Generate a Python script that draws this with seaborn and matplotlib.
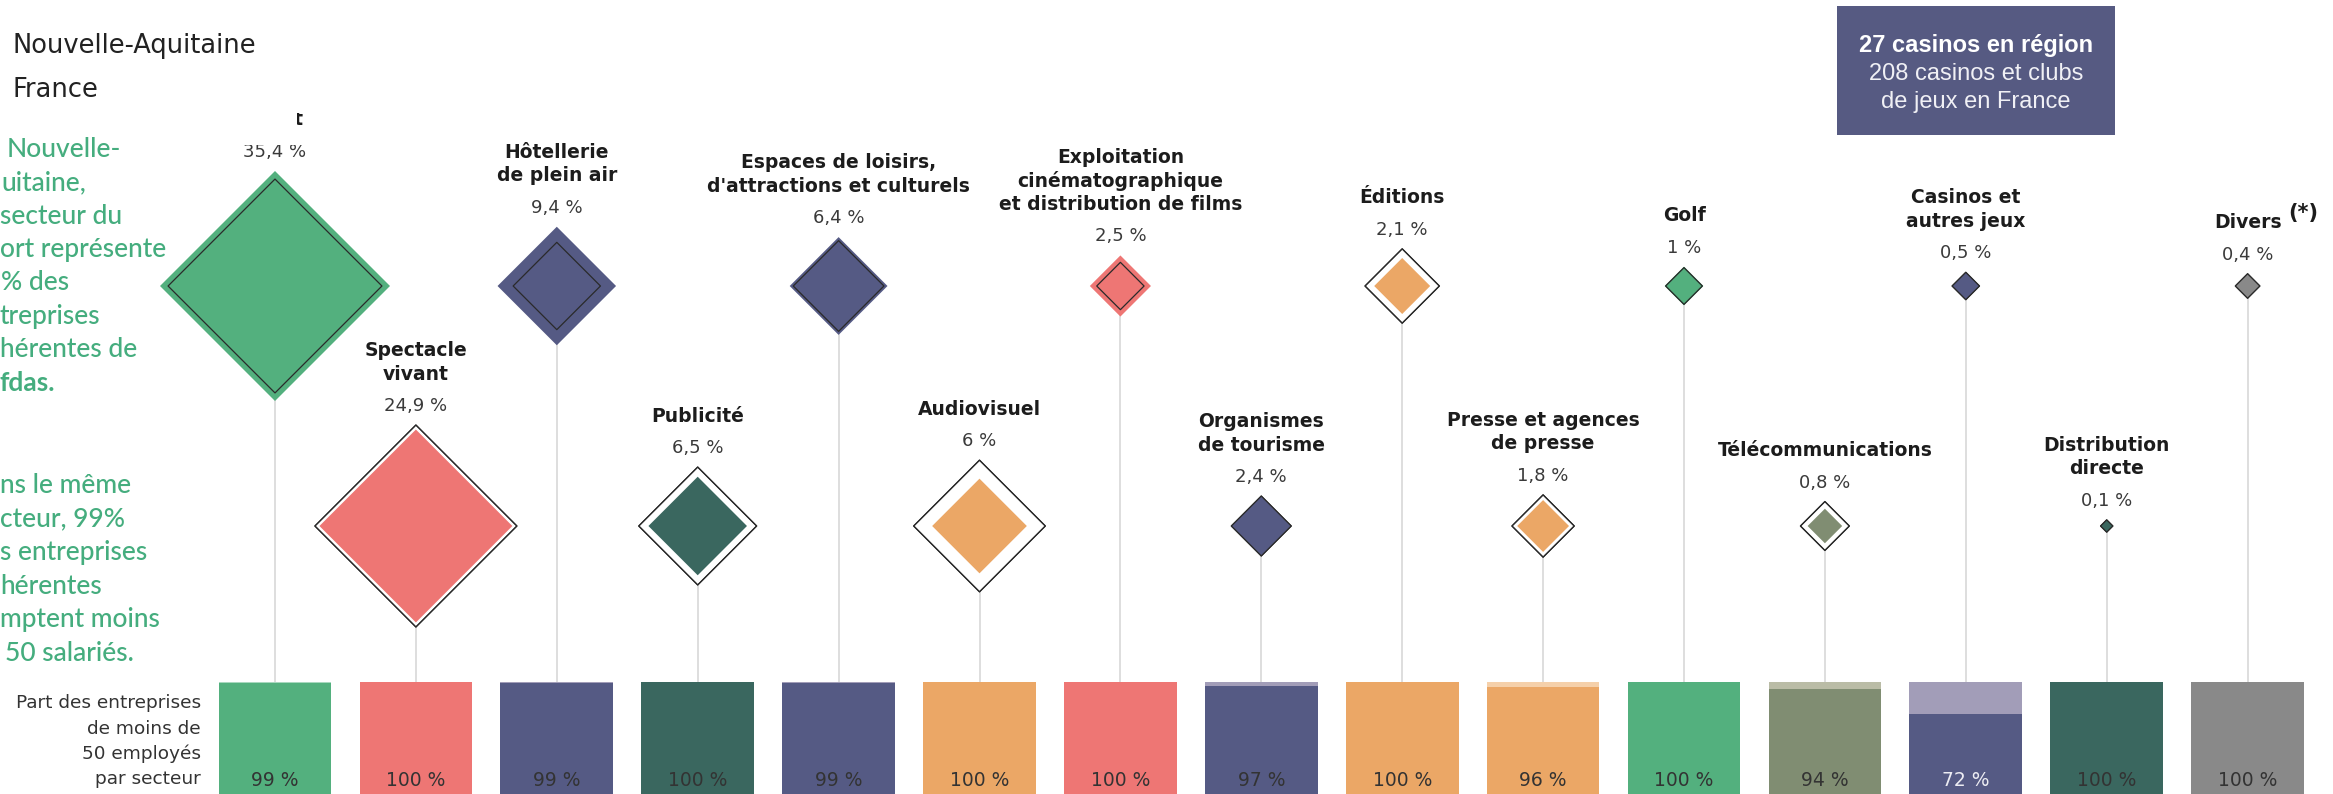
import matplotlib
matplotlib.use("Agg")
import matplotlib.pyplot as plt
from matplotlib.transforms import Bbox
from matplotlib.patches import Rectangle
import numpy as np
import pandas as pd
import seaborn as sns

# ---------------- data ----------------
sectors = ["Sport", "Spectacle\nvivant", "Hôtellerie\nde plein air", "Publicité",
           "Espaces de loisirs,\nd'attractions et culturels", "Audiovisuel",
           "Exploitation\ncinématographique\net distribution de films",
           "Organismes\nde tourisme", "Éditions", "Presse et agences\nde presse",
           "Golf", "Télécommunications", "Casinos et\nautres jeux",
           "Distribution\ndirecte", "Divers"]
share_region = [35.4, 24.9, 9.4, 6.5, 6.4, 6.0, 2.5, 2.4, 2.1, 1.8, 1.0, 0.8, 0.5, 0.1, 0.4]
share_france = [30.6, 27.3, 5.1, 9.3, 5.5, 11.6, 1.5, 2.4, 3.7, 2.6, 0.9, 1.6, 0.5, 0.1, 0.4]
share_labels = ["35,4 %", "24,9 %", "9,4 %", "6,5 %", "6,4 %", "6 %", "2,5 %", "2,4 %",
                "2,1 %", "1,8 %", "1 %", "0,8 %", "0,5 %", "0,1 %", "0,4 %"]
small_firms = [99, 100, 99, 100, 99, 100, 100, 97, 100, 96, 100, 94, 72, 100, 100]
small_labels = ["99 %", "100 %", "99 %", "100 %", "99 %", "100 %", "100 %", "97 %",
                "100 %", "96 %", "100 %", "94 %", "72 %", "100 %", "100 %"]
sector_colors = ["#53B07E", "#EE7674", "#555A84", "#3A675F", "#555A84", "#EBA766",
                 "#EE7674", "#555A84", "#EBA766", "#EBA766", "#53B07E", "#808D72",
                 "#555A84", "#3A675F", "#898989"]
sector_light = ["#A9D8BF", "#F6BAB9", "#A29DB8", "#9DB3AF", "#A29DB8", "#F5D0AA",
                "#F6BAB9", "#A29DB8", "#F5D0AA", "#F5D0AA", "#A9D8BF", "#BABCA6",
                "#A29DB8", "#9DB3AF", "#C4C4C4"]

intro_lines = ["Nouvelle-", "uitaine,", "secteur du", "ort représente", "% des",
               "treprises", "hérentes de", "fdas."]
second_lines = ["ns le même", "cteur, 99%", "s entreprises", "hérentes",
                "mptent moins", "50 salariés."]
bar_caption = ["Part des entreprises", "de moins de", "50 employés", "par secteur"]
box_lines = ["27 casinos en région", "208 casinos et clubs", "de jeux en France"]

# ---------------- layout ----------------
W, H, DPI = 2333, 794, 100
X0, DX = 275.0, 140.9          # pixel x of first column, column spacing
ROW_Y = (286.0, 526.0)          # pixel y of diamond centres (two rows)
BAR_TOP = 682.3
K = 19.33                       # half-diagonal (px) per sqrt(%)
S_PER = (K / (0.70711 * DPI / 72.0)) ** 2   # scatter size (pt^2) per %

def px(p):
    return (p - X0) / DX

plt.rcParams["font.family"] = ["DejaVu Sans"]
fig = plt.figure(figsize=(W / DPI, H / DPI), dpi=DPI)
fig.patch.set_facecolor("white")
ax = fig.add_axes([0, 0, 1, 1])
ax.set_facecolor("none")

n = len(sectors)
df = pd.DataFrame({"sector": sectors, "pos": np.arange(n),
                   "region": share_region, "france": share_france})
df["row"] = [ROW_Y[i % 2] for i in range(n)]

# connectors
ax.vlines(df["pos"], df["row"], BAR_TOP, color="#d4d4d4", lw=1.1, zorder=1)

# France diamonds (white backing with outline)
ax.scatter(df["pos"], df["row"], s=df["france"] * S_PER, marker="D",
           facecolor="white", edgecolor="#2a2a2a", linewidths=0.9, zorder=2)
# region diamonds
sns.scatterplot(data=df, x="pos", y="row", hue="sector", hue_order=sectors,
                palette=sector_colors, size="region",
                sizes=(0, S_PER * 35.4), size_norm=(0, 35.4), marker="D",
                linewidth=0, legend=False, ax=ax, zorder=3)
# France outline on top
ax.scatter(df["pos"], df["row"], s=df["france"] * S_PER, marker="D",
           facecolor="none", edgecolor="#2a2a2a", linewidths=0.9, zorder=4)

# labels above diamonds
for i in range(n):
    yc = df["row"][i]
    ext = K * np.sqrt(max(share_region[i], share_france[i]))
    pct_base = yc - ext - 14
    t = ax.text(i, pct_base, share_labels[i], ha="center", va="baseline",
                fontsize=13, color="#3a3a3a", zorder=6)
    if i == 0:
        t.set_clip_box(Bbox([[0, 0], [W, H - 145]]))
        t.set_clip_on(True)
    lines = sectors[i].split("\n")
    for j, line in enumerate(reversed(lines)):
        tt = ax.text(i, pct_base - 31.5 - 23.4 * j, line, ha="center",
                     va="baseline", fontsize=13.5, fontweight="bold",
                     color="#1c1c1c", zorder=6)
        if i == 0:
            tt.set_clip_box(Bbox([[297, H - 130], [330, H - 113]]))
            tt.set_clip_on(True)
    if i == n - 1:
        ax.annotate("(*)", xy=(i, pct_base - 31.5), xytext=(29.5, 7),
                    textcoords="offset points", fontsize=15, fontweight="bold",
                    color="#1c1c1c", ha="left", va="baseline")

# legend titles (top-left)
ax.text(px(12.7), 53.3, "Nouvelle-Aquitaine", fontsize=18.5, color="#222222",
        ha="left", va="baseline")
ax.text(px(12.7), 96.7, "France", fontsize=18.5, color="#222222",
        ha="left", va="baseline")

# green commentary (cut by the left edge)
green = "#45AD7E"
intro_x = [6.7, 1.5, 0.5, 0, 1, 0, 0, 0]
for k, line in enumerate(intro_lines):
    ax.text(px(intro_x[k]), 156.7 + 33.43 * k, line, fontsize=19, color=green,
            family="Lato", fontweight="bold" if line.startswith("fdas") else 500,
            ha="left", va="baseline")
second_x = [0, 0, 0, 0, 0, 5]
for k, line in enumerate(second_lines):
    ax.text(px(second_x[k]), 493.3 + 33.47 * k, line, fontsize=19, color=green,
            family="Lato", fontweight=500, ha="left", va="baseline")

# caption of the bars
for k, line in enumerate(bar_caption):
    ax.text(px(201), 708 + 25.5 * k, line, fontsize=13.3, color="#333333",
            ha="right", va="baseline")

# casinos box
ax.add_patch(Rectangle((px(1836.7), 6), (2115 - 1836.7) / DX, 129,
                       facecolor="#565A82", edgecolor="none", zorder=5))
for k, line in enumerate(box_lines):
    ax.text(px(1976), 51.7 + 28.3 * k, line, fontsize=17, family="Liberation Sans",
            fontweight="bold" if k == 0 else "normal",
            color="white" if k == 0 else "#f0f0f5",
            ha="center", va="baseline", zorder=6)

ax.set_xlim(px(0), px(W))
ax.set_ylim(H, 0)
ax.axis("off")

# ---------------- bars (share of firms < 50 employees) ----------------
axb = fig.add_axes([0, 0, 1, (H - BAR_TOP) / H])
axb.set_facecolor("none")
sns.barplot(x=sectors, y=small_firms, hue=sectors, hue_order=sectors,
            palette=sector_colors, width=0.8, saturation=1, errorbar=None,
            legend=False, ax=axb)
axb.bar(np.arange(n), [100 - v for v in small_firms], bottom=small_firms,
        width=0.8, color=sector_light, linewidth=0)
for i in range(n):
    axb.text(i, (H - 786) / (H - BAR_TOP) * 100, small_labels[i], ha="center",
             va="baseline", fontsize=13.5,
             color="#ececf2" if small_firms[i] < 80 else "#333333")
axb.set_xlim(px(0), px(W))
axb.set_ylim(0, 100)
axb.axis("off")

fig.savefig("out.png", dpi=DPI, facecolor="white")
